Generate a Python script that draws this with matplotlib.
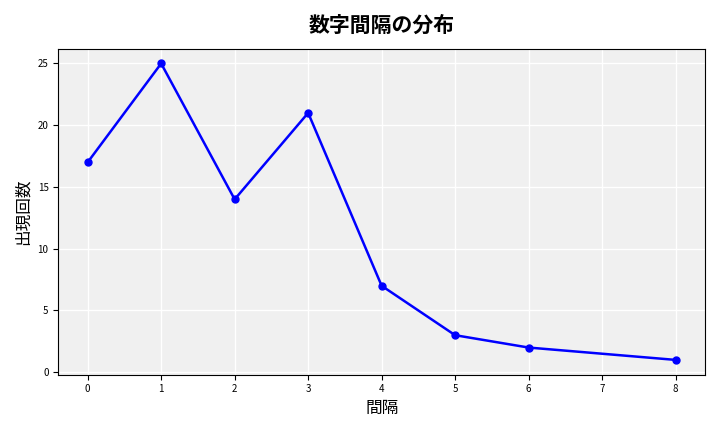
import matplotlib
matplotlib.use('Agg')
import matplotlib.pyplot as plt

plt.rcParams['font.family'] = ['Noto Sans CJK JP', 'DejaVu Sans']

gaps = [0, 1, 2, 3, 4, 5, 6, 8]
counts = [17, 25, 14, 21, 7, 3, 2, 1]

fig, ax = plt.subplots(figsize=(7.2, 4.32), dpi=100)
ax.set_facecolor('#f0f0f0')
ax.plot(gaps, counts, color='blue', marker='o', linewidth=1.8, markersize=5)
ax.set_title('数字間隔の分布', fontsize=15, fontweight='bold', pad=12)
ax.set_xlabel('間隔', fontsize=12)
ax.set_ylabel('出現回数', fontsize=12)
ax.set_xticks(range(0, 9))
ax.tick_params(labelsize=7)
ax.grid(True, color='white', linewidth=1)
for s in ax.spines.values():
    s.set_linewidth(0.8)
fig.tight_layout()
fig.savefig('out.png')
